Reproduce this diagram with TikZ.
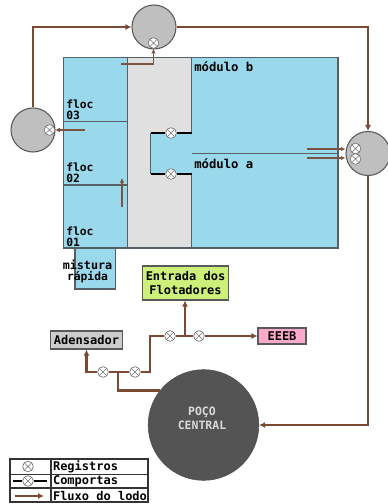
\documentclass[tikz,border=0pt]{standalone}
\usepackage{fontspec}
\setmainfont{DejaVu Sans Mono}[BoldFont={DejaVu Sans Mono Bold}]
\usetikzlibrary{arrows.meta,positioning,calc}
\definecolor{Lodo}{HTML}{7A4A33}
\definecolor{Tanque}{HTML}{9AD9EB}
\definecolor{Borda}{HTML}{555F66}
\definecolor{Canal}{HTML}{E0E0E0}
\definecolor{Poco}{HTML}{545454}
\definecolor{Entrada}{HTML}{CCF07A}
\definecolor{Rosa}{HTML}{FFAACC}

\begin{document}
\begin{tikzpicture}[x=.75pt,y=-.75pt,
    tankstyle/.style={fill=Tanque,draw=Borda,line width=1pt},
    circstyle/.style={circle,fill=black!25,draw=black!65,line width=.8pt,minimum size=33pt,inner sep=0pt},
    valvestyle/.style={circle,fill=white,draw=black!55,line width=.5pt,minimum size=8pt,inner sep=0pt,
      path picture={\draw[black!55,line width=.5pt] (path picture bounding box.south west)--(path picture bounding box.north east)
        (path picture bounding box.north west)--(path picture bounding box.south east);}},
    boxstyle/.style={draw=black!65,line width=.8pt,inner sep=0pt,align=center,font=\bfseries\fontsize{9}{10.5}\selectfont},
    labelstyle/.style={font=\bfseries\fontsize{8.5}{8}\selectfont,align=left,inner sep=0pt},
    lodostyle/.style={draw=Lodo,line width=2pt},
    setastyle/.style={-{Latex[length=4.5pt,width=4.5pt]}},
    thinstyle/.style={draw=Lodo!80!gray,line width=.8pt,-{Latex[length=3.5pt,width=3.5pt]}}]
    \useasboundingbox (0,0) rectangle (387,504);
    % tanques
    \draw[tankstyle] (75,248) rectangle (115.5,289);
    \draw[fill=Canal,draw=Borda,line width=1pt] (127.5,57.5) rectangle (191.5,248);
    \draw[tankstyle] (63.5,57.5) rectangle (127.5,248);
    \draw[tankstyle] (191.5,57.5) rectangle (338,248);
    \draw[Borda,line width=1pt] (63.5,121.5)--(127.5,121.5) (63.5,185)--(127.5,185) (191.5,153.5)--(338,153.5);
    \draw[fill=Tanque,draw=none] (150.5,133) rectangle (191.5,174);
    \draw[Borda,line width=1pt] (150.5,133)--(150.5,174);
    % textos
    \node[labelstyle,anchor=north west] (floctres) at (66,100) {floc\\03};
    \node[labelstyle,anchor=north west] (flocdois) at (66,163) {floc\\02};
    \node[labelstyle,anchor=north west] (flocum) at (66,227) {floc\\01};
    \node[labelstyle,align=center] (mistura) at (87.5,271.5) {\fontsize{8.8}{8.2}\selectfont mistura\\rápida};
    \node[labelstyle,anchor=west] (modb) at (194,67) {\fontsize{9.2}{10}\selectfont módulo b};
    \node[labelstyle,anchor=west] (moda) at (194,163.5) {\fontsize{9.2}{10}\selectfont módulo a};
    % elevatorias
    \node[circstyle] (topcirc) at (154,27) {};
    \node[circstyle] (leftcirc) at (33,130) {};
    \node[circstyle] (rightcirc) at (368,153.5) {};
    \node[circle,fill=Poco,draw=black!70,minimum size=83pt,inner sep=0pt] (poco) at (203.5,425) {};
    \node[align=center,inner sep=0pt,text=black!15,font=\bfseries\fontsize{8.6}{10.5}\selectfont] (pocotxt) at (202,418) {POÇO\\CENTRAL};
    % caixas
    \node[boxstyle,fill=black!20,minimum width=54pt,minimum height=13.5pt] (adens) at (86.5,340) {Adensador};
    \node[boxstyle,fill=Entrada,minimum width=64pt,minimum height=25.5pt] (entrada) at (185.5,283) {Entrada dos\\Flotadores};
    \node[boxstyle,fill=Rosa,minimum width=36pt,minimum height=12pt] (eeeb) at (282,336) {EEEB};
    % registros
    \node[valvestyle] (vtop) at (153.5,43) {};
    \node[valvestyle] (vleft) at (49.5,130) {};
    \node[valvestyle] (vra) at (355.5,148.5) {};
    \node[valvestyle] (vrb) at (355.5,159) {};
    \node[valvestyle] (vgta) at (171,133) {};
    \node[valvestyle] (vgtb) at (171,174) {};
    \node[valvestyle] (vad) at (103,372) {};
    \node[valvestyle] (vmid) at (135,372) {};
    \node[valvestyle] (ven) at (170,336) {};
    \node[valvestyle] (vee) at (199,336) {};
    % comportas
    \coordinate (gtal) at (150.5,133);
    \coordinate (gtar) at (191.5,133);
    \coordinate (gtbl) at (150.5,174);
    \coordinate (gtbr) at (191.5,174);
    \draw[black,line width=1.2pt] (gtal)--(vgta) (vgta)--(gtar) (gtbl)--(vgtb) (vgtb)--(gtbr);
    % fluxo do lodo
    \draw[lodostyle,setastyle] (leftcirc.north) |- (topcirc.west);
    \draw[lodostyle,setastyle] (topcirc.east) -| (rightcirc.north);
    \draw[lodostyle,setastyle] (rightcirc.south) |- (poco.east);
    \coordinate (jpoco) at (118,372);
    \coordinate (jalto) at (150,336);
    \coordinate (jent) at (185,336);
    \draw[lodostyle] (poco.142) -| (jpoco);
    \draw[lodostyle,setastyle] (vad) -| (adens.south);
    \draw[lodostyle] (vad)--(vmid);
    \draw[lodostyle] (vmid) -| (jalto) -- (ven);
    \draw[lodostyle] (ven)--(vee);
    \draw[lodostyle,setastyle] (vee)--(eeeb);
    \draw[lodostyle,setastyle] (jent)--(entrada.south -| jent);
    % setas finas
    \coordinate (fa) at (121,64);
    \coordinate (fb) at (85,130);
    \coordinate (fc) at (122,207);
    \coordinate (fd) at (122,178);
    \coordinate (fe) at (307,149);
    \coordinate (ff) at (307,158);
    \draw[thinstyle] (fa) -| (vtop.south);
    \draw[thinstyle] (fb)--(vleft);
    \draw[thinstyle] (fc)--(fd);
    \draw[thinstyle] (fe)--(fe -| rightcirc.west);
    \draw[thinstyle] (ff)--(ff -| rightcirc.west);
    % legenda
    \draw[black!80,fill=white,line width=.8pt] (10,459) rectangle (148,502);
    \draw[black!80,line width=.8pt] (10,474.5)--(148,474.5) (10,488)--(148,488) (51,459)--(51,502);
    \node[valvestyle] (lega) at (28,466.5) {};
    \node[valvestyle] (legb) at (28,481) {};
    \coordinate (lbl) at (13,481);
    \coordinate (lbr) at (47,481);
    \coordinate (lcl) at (15,496);
    \coordinate (lcr) at (44,496);
    \draw[black,line width=1.2pt] (lbl)--(legb) (legb)--(lbr);
    \draw[draw=Lodo,line width=1.5pt,setastyle] (lcl)--(lcr);
    \node[boxstyle,draw=none,anchor=west] (txta) at (52.5,467) {Registros};
    \node[boxstyle,draw=none,anchor=west] (txtb) at (52.5,481.5) {Comportas};
    \node[boxstyle,draw=none,anchor=west] (txtc) at (52.5,496) {Fluxo do lodo};
\end{tikzpicture}
\end{document}
